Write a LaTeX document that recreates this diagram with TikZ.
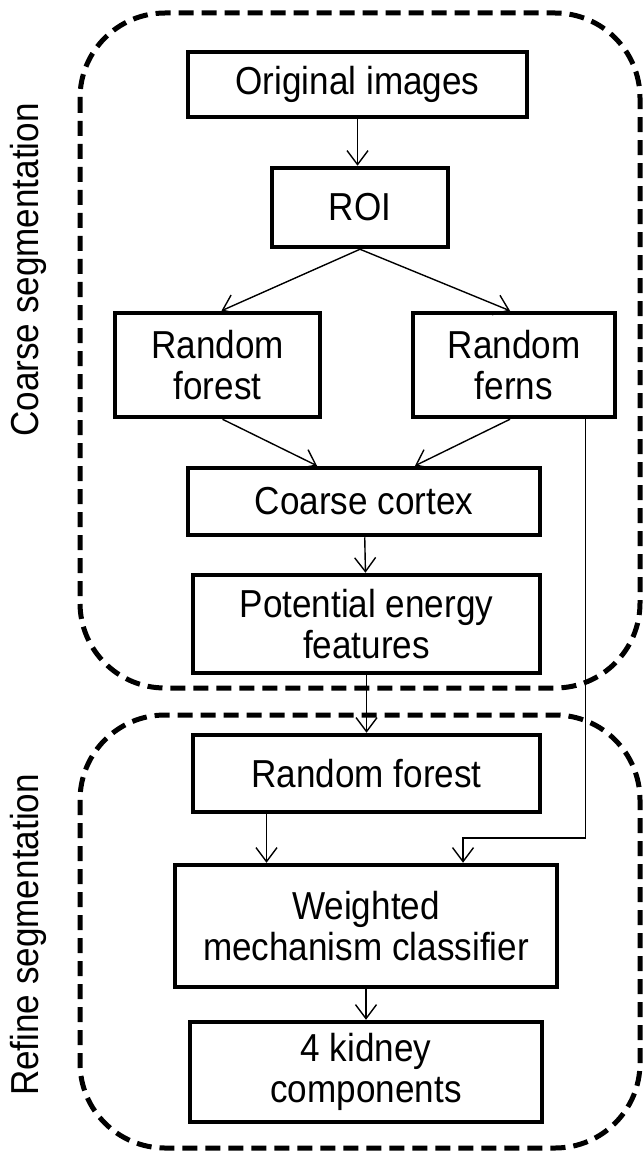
\documentclass[tikz,border=0pt]{standalone}
\usepackage{fontspec}
\setmainfont{Liberation Sans}[FakeStretch=0.9]
\usetikzlibrary{arrows.meta,positioning,calc}
\tikzset{
  box/.style={draw,line width=4.5pt,align=center,inner sep=0pt,font=\fontsize{39}{41}\selectfont},
  stage/.style={draw,line width=5pt,dash pattern=on 15pt off 8pt,rounded corners=85pt},
  arr/.style={-{Straight Barb[length=14pt,width=21pt]},line width=1.4pt},
  side/.style={rotate=90,font=\fontsize{39}{41}\selectfont},
}

\begin{document}
\begin{tikzpicture}[x=1pt,y=-1pt]
\useasboundingbox (0,0) rectangle (644,1155);
% the two stages
\draw[stage] (80,13) rectangle (640,688);
\draw[stage] (80,715) rectangle (640,1148);
\node[side] (coarse) at (28,270) {Coarse segmentation};
\node[side] (refine) at (28,935) {Refine segmentation};
% coarse stage
\node[box,minimum width=339pt,minimum height=65pt] (orig) at (357.5,84.5) {Original images};
\node[box,minimum width=176pt,minimum height=79pt] (roi) at (360,207.5) {ROI};
\node[box,minimum width=205pt,minimum height=104pt] (rfl) at (217.5,365) {Random\\forest};
\node[box,minimum width=202pt,minimum height=104pt] (rfern) at (514,365) {Random\\ferns};
\node[box,minimum width=352pt,minimum height=67pt] (cortex) at (364,501.5) {Coarse cortex};
\node[box,minimum width=347pt,minimum height=98pt] (energy) at (366.5,624) {Potential energy\\features};
% refine stage
\node[box,minimum width=347pt,minimum height=77pt] (rfr) at (366.5,773.5) {Random forest};
\node[box,minimum width=382pt,minimum height=122pt] (wmc) at (366,926) {Weighted\\mechanism classifier};
\node[box,minimum width=352pt,minimum height=100pt] (kidney) at (366,1072) {4 kidney\\components};
\coordinate (turn) at (463,838);
\draw[arr] (orig.south) -- (orig.south |- roi.north);
\draw[arr] (roi.south) -- ([xshift=4pt]rfl.north);\draw[arr] (roi.south) -- ([xshift=-4pt]rfern.north);
\draw[arr] ([xshift=5pt]rfl.south) -- ([xshift=-47pt]cortex.north);\draw[arr] ([xshift=-4pt]rfern.south) -- ([xshift=51pt]cortex.north);
\draw[arr] (cortex) -- (energy);\draw[arr] (energy) -- (rfr);
\draw[arr] ([xshift=-32pt]rfern.south east) |- (turn) -- (turn |- wmc.north);
\draw[arr] ([xshift=-100pt]rfr.south) -- ([xshift=-100pt]rfr.south |- wmc.north);
\draw[arr] (wmc) -- (kidney);
\end{tikzpicture}
\end{document}
